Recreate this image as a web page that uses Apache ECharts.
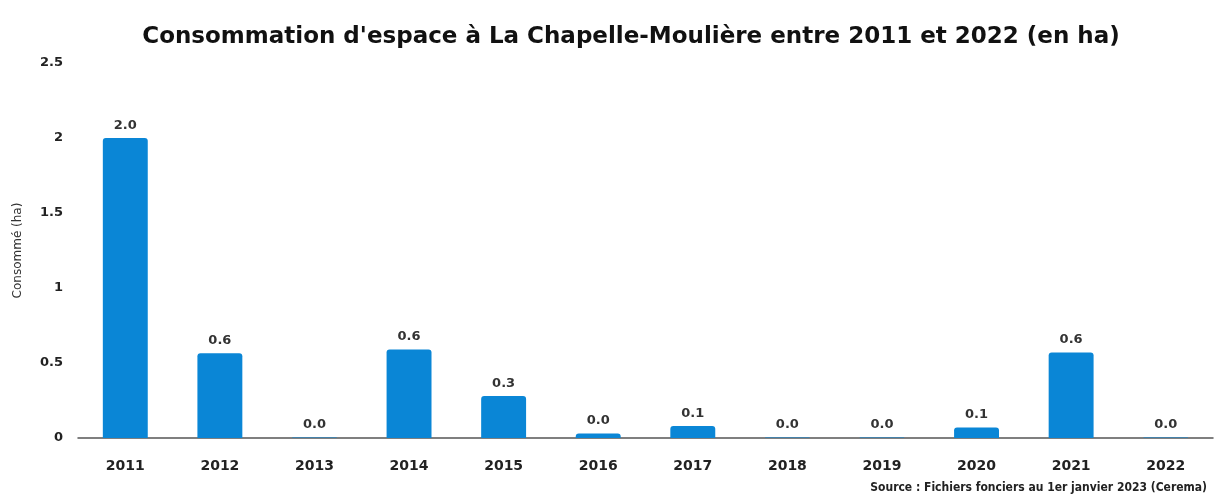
<!DOCTYPE html>
<html><head><meta charset="utf-8">
<script src="https://cdn.jsdelivr.net/npm/echarts@6/dist/echarts.min.js"></script>
<style>html,body{margin:0;padding:0;background:#fff}#c{width:1215px;height:497px}</style>
</head><body><div id="c"></div>
<script>
const categories = ['2011','2012','2013','2014','2015','2016','2017','2018','2019','2020','2021','2022'];
const values = [2.0, 0.565, 0.003, 0.59, 0.28, 0.03, 0.08, 0.003, 0.003, 0.07, 0.57, 0.003];
const yTicks = [0, 0.5, 1, 1.5, 2, 2.5];
const titleText = "Consommation d'espace à La Chapelle-Moulière entre 2011 et 2022 (en ha)";
const sourceText = 'Source : Fichiers fonciers au 1er janvier 2023 (Cerema)';
const yName = 'Consommé (ha)';

const chart = echarts.init(document.getElementById('c'));
chart.setOption({
  animation: false,
  title: [{
    text: titleText, left: 626, top: 21, textAlign: 'center',
    textStyle: {fontFamily: 'DejaVu Sans', fontWeight: 'bold', fontSize: 23, color: '#111'}
  }, {
    text: sourceText, right: 3, top: 477,
    textStyle: {fontFamily: 'DejaVu Sans Condensed', fontWeight: 'bold', fontSize: 12, color: '#222'}
  }],
  grid: {left: 78, right: 2, top: 63, bottom: 59},
  xAxis: {
    type: 'category', data: categories,
    axisLine: {lineStyle: {color: '#555', width: 1.5}},
    axisTick: {show: false},
    axisLabel: {margin: 21, fontFamily: 'DejaVu Sans', fontWeight: 'bold', fontSize: 14, color: '#222'}
  },
  yAxis: {
    type: 'value', min: yTicks[0], max: yTicks[yTicks.length-1], interval: 0.5,
    name: yName, nameLocation: 'middle', nameGap: 54, nameRotate: 90,
    nameTextStyle: {fontFamily: 'DejaVu Sans', fontSize: 12, color: '#333'},
    splitLine: {show: false}, axisLine: {show: false}, axisTick: {show: false},
    axisLabel: {margin: 15, fontFamily: 'DejaVu Sans', fontWeight: 'bold', fontSize: 13, color: '#222',
      formatter: v => String(v)}
  },
  series: [{
    type: 'bar', data: values, barWidth: '47.5%',
    itemStyle: {color: '#0a86d6', borderRadius: [3,3,0,0]},
    label: {show: true, position: 'top', distance: 6, formatter: p => p.value.toFixed(1),
      fontFamily: 'DejaVu Sans', fontWeight: 'bold', fontSize: 13, color: '#333'}
  }]
});
</script></body></html>
